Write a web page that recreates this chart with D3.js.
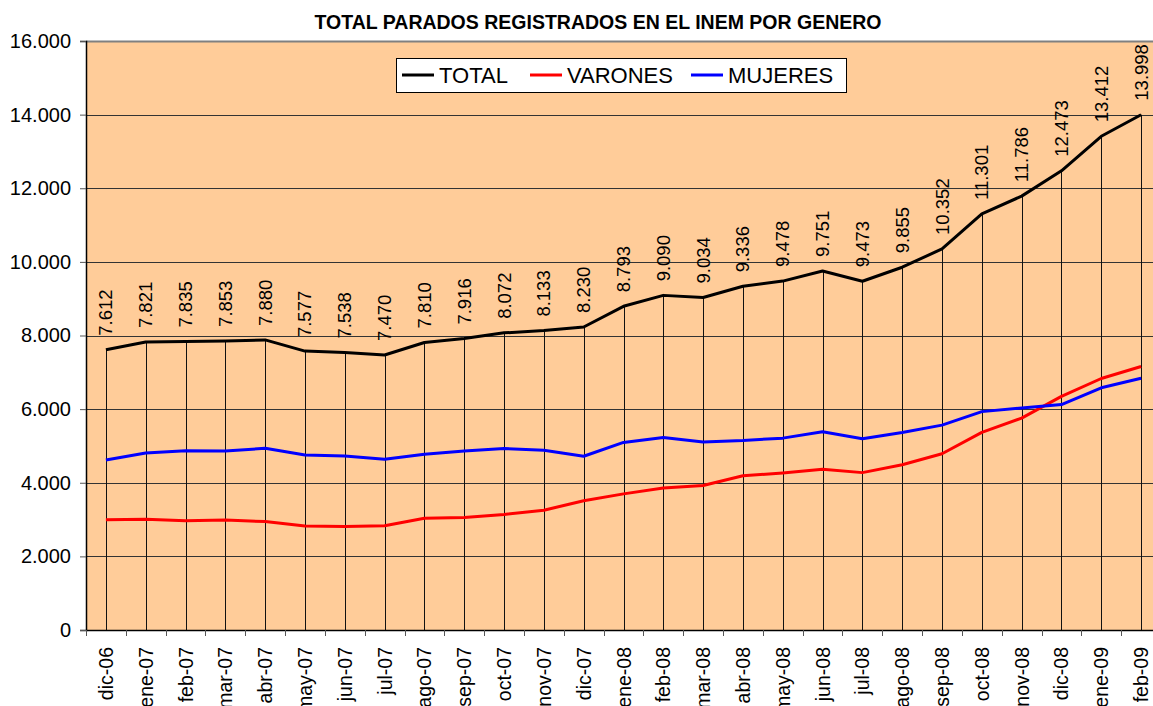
<!DOCTYPE html>
<html>
<head>
<meta charset="utf-8">
<script src="https://cdn.jsdelivr.net/npm/d3@7"></script>
<style>
  body { margin: 0; background: #fff; }
  svg { display: block; font-family: "Liberation Sans", Arial, sans-serif; }
</style>
</head>
<body>
<div id="chart"></div>
<script>
// data
var meses = ["dic-06", "ene-07", "feb-07", "mar-07", "abr-07", "may-07", "jun-07", "jul-07",
  "ago-07", "sep-07", "oct-07", "nov-07", "dic-07", "ene-08", "feb-08", "mar-08", "abr-08",
  "may-08", "jun-08", "jul-08", "ago-08", "sep-08", "oct-08", "nov-08", "dic-08", "ene-09", "feb-09"];
var total = [7612, 7821, 7835, 7853, 7880, 7577, 7538, 7470, 7810, 7916, 8072, 8133, 8230,
  8793, 9090, 9034, 9336, 9478, 9751, 9473, 9855, 10352, 11301, 11786, 12473, 13412, 13998];
var varones = [2992, 3011, 2965, 2988, 2945, 2822, 2810, 2830, 3035, 3056, 3140, 3253, 3510,
  3698, 3858, 3924, 4188, 4266, 4366, 4275, 4490, 4787, 5369, 5756, 6348, 6832, 7158];
var mujeres = [4620, 4810, 4870, 4865, 4935, 4755, 4728, 4640, 4775, 4860, 4932, 4880, 4720,
  5095, 5232, 5110, 5148, 5212, 5385, 5198, 5365, 5565, 5932, 6030, 6125, 6580, 6840];
var yTicks = [0, 2000, 4000, 6000, 8000, 10000, 12000, 14000, 16000];

var series = [
  { name: "TOTAL", values: total, color: "#000000" },
  { name: "VARONES", values: varones, color: "#ff0000" },
  { name: "MUJERES", values: mujeres, color: "#0000ff" }
];

var w = 1153, h = 706;
var plotLeft = 86, plotTop = 41, plotBottom = 630, plotRight = 1161;

var svg = d3.select("#chart").append("svg")
  .attr("width", w)
  .attr("height", h);

var es = d3.formatLocale({ decimal: ",", thousands: ".", grouping: [3], currency: ["", ""] });
var fmt = es.format(",d");

var x = d3.scaleBand().domain(meses).range([plotLeft, plotRight]).padding(0);
var y = d3.scaleLinear().domain([0, 16000]).range([plotBottom, plotTop]);
function cx(d) { return x(d) + x.bandwidth() / 2; }

// title
svg.append("text")
  .attr("x", 598)
  .attr("y", 29)
  .attr("text-anchor", "middle")
  .attr("font-weight", "bold")
  .attr("font-size", "19.5px")
  .text("TOTAL PARADOS REGISTRADOS EN EL INEM POR GENERO");

// plot background
svg.append("rect")
  .attr("x", plotLeft)
  .attr("y", plotTop)
  .attr("width", plotRight - plotLeft)
  .attr("height", plotBottom - plotTop)
  .attr("fill", "#ffcc99");

// gridlines
svg.append("g")
  .selectAll("line")
  .data(yTicks.filter(function(d) { return d > 0; }))
  .enter()
  .append("line")
  .attr("x1", plotLeft)
  .attr("x2", plotRight)
  .attr("y1", function(d) { return Math.round(y(d)) + 0.5; })
  .attr("y2", function(d) { return Math.round(y(d)) + 0.5; })
  .attr("stroke", function(d) { return d === 16000 ? "#808080" : "#333"; })
  .attr("stroke-width", function(d) { return d === 16000 ? 2 : 1; });

// drop lines from the total to the axis
svg.append("g")
  .selectAll("line")
  .data(meses)
  .enter()
  .append("line")
  .attr("x1", function(d) { return Math.round(cx(d)) + 0.5; })
  .attr("x2", function(d) { return Math.round(cx(d)) + 0.5; })
  .attr("y1", function(d, i) { return y(total[i]); })
  .attr("y2", plotBottom)
  .attr("stroke", "#111")
  .attr("stroke-width", 1);

// lines
var line = d3.line()
  .x(function(d, i) { return cx(meses[i]); })
  .y(function(d) { return y(d); });

svg.append("g")
  .selectAll("path")
  .data(series)
  .enter()
  .append("path")
  .attr("d", function(s) { return line(s.values); })
  .attr("fill", "none")
  .attr("stroke", function(s) { return s.color; })
  .attr("stroke-width", 3)
  .attr("stroke-linejoin", "round");

// value labels on total
svg.append("g")
  .selectAll("text")
  .data(total)
  .enter()
  .append("text")
  .attr("transform", function(d, i) {
    return "translate(" + (cx(meses[i]) + 6.5) + "," + (y(d) - 14) + ") rotate(-90)";
  })
  .attr("font-size", "18.5px")
  .attr("fill", "#000")
  .text(function(d) { return fmt(d); });

// y axis
var yAxis = d3.axisLeft(y)
  .tickValues(yTicks)
  .tickSize(6)
  .tickPadding(9)
  .tickFormat(fmt);

var gy = svg.append("g")
  .attr("transform", "translate(" + plotLeft + ",0)")
  .call(yAxis);
gy.select(".domain").attr("stroke", "#000").attr("stroke-width", 1.5);
gy.selectAll(".tick line").attr("stroke", "#555");
gy.selectAll("text")
  .attr("font-size", "20px")
  .attr("font-family", "Liberation Sans, Arial, sans-serif")
  .attr("fill", "#000");

// x axis line and ticks at category boundaries
svg.append("line")
  .attr("x1", plotLeft)
  .attr("x2", plotRight)
  .attr("y1", plotBottom + 0.5)
  .attr("y2", plotBottom + 0.5)
  .attr("stroke", "#000")
  .attr("stroke-width", 1.5);

svg.append("g")
  .selectAll("line")
  .data(meses)
  .enter()
  .append("line")
  .attr("x1", function(d) { return Math.round(x(d)) + 0.5; })
  .attr("x2", function(d) { return Math.round(x(d)) + 0.5; })
  .attr("y1", plotBottom)
  .attr("y2", plotBottom + 6)
  .attr("stroke", "#555");

svg.append("g")
  .selectAll("text")
  .data(meses)
  .enter()
  .append("text")
  .attr("transform", function(d) {
    return "translate(" + (cx(d) + 7) + "," + 647 + ") rotate(-90)";
  })
  .attr("text-anchor", "end")
  .attr("font-size", "19.5px")
  .attr("fill", "#000")
  .text(function(d) { return d; });

// legend
var lg = svg.append("g");
lg.append("rect")
  .attr("x", 396.5)
  .attr("y", 58.5)
  .attr("width", 450)
  .attr("height", 34)
  .attr("fill", "#fff")
  .attr("stroke", "#000");

var legendX = [402, 530, 691];
lg.selectAll("g.item")
  .data(series)
  .enter()
  .append("g")
  .attr("class", "item")
  .each(function(s, i) {
    var g = d3.select(this);
    g.append("line")
      .attr("x1", legendX[i])
      .attr("x2", legendX[i] + 32)
      .attr("y1", 75)
      .attr("y2", 75)
      .attr("stroke", s.color)
      .attr("stroke-width", 3);
    g.append("text")
      .attr("x", legendX[i] + 37)
      .attr("y", 83)
      .attr("font-size", "22px")
      .attr("fill", "#000")
      .text(s.name);
  });
</script>
</body>
</html>
